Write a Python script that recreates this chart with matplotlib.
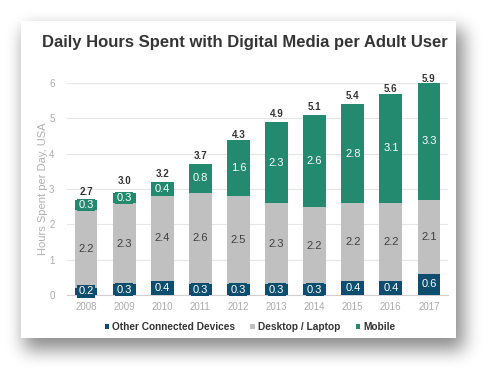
import numpy as np
import matplotlib
matplotlib.use("Agg")
import matplotlib.pyplot as plt
from matplotlib.patches import Rectangle

years = ["2008", "2009", "2010", "2011", "2012", "2013", "2014", "2015", "2016", "2017"]
other = [0.2, 0.3, 0.4, 0.3, 0.3, 0.3, 0.3, 0.4, 0.4, 0.6]
desktop = [2.2, 2.3, 2.4, 2.6, 2.5, 2.3, 2.2, 2.2, 2.2, 2.1]
mobile = [0.3, 0.3, 0.4, 0.8, 1.6, 2.3, 2.6, 2.8, 3.1, 3.3]
totals = [2.7, 3.0, 3.2, 3.7, 4.3, 4.9, 5.1, 5.4, 5.6, 5.9]
series_names = ["Other Connected Devices", "Desktop / Laptop", "Mobile"]

c_other = "#0d4e6e"
c_desk = "#c0c0c0"
c_mob = "#238a70"

plt.rcParams['font.family'] = ['Liberation Sans', 'DejaVu Sans']

W, H = 498, 381
fig = plt.figure(figsize=(W / 100, H / 100), dpi=100)
fig.patch.set_facecolor("white")

# card with soft blurred shadow
cx0, cy0, cx1, cy1 = 21, 21, 456, 338
mask = np.zeros((H, W))
mask[cy0 + 8:cy1 + 12, cx0 + 3:cx1 + 8] = 1.0
k = np.ones(17) / 17
for _ in range(3):
    mask = np.apply_along_axis(lambda r: np.convolve(r, k, mode="same"), 1, mask)
    mask = np.apply_along_axis(lambda c: np.convolve(c, k, mode="same"), 0, mask)
shadow = np.zeros((H, W, 4))
shadow[..., 3] = mask * 0.45
fig.figimage(shadow, 0, 0, origin="upper", zorder=0)
fig.patches.append(Rectangle((cx0 / W, 1 - cy1 / H), (cx1 - cx0) / W, (cy1 - cy0) / H,
                             transform=fig.transFigure, facecolor="white",
                             edgecolor="none", zorder=1))

ax = fig.add_axes([67 / W, 1 - 295 / H, (448 - 67) / W, (295 - 83) / H])
ax.set_zorder(2)
ax.patch.set_alpha(0)

x = np.arange(len(years))
bw = 0.6
b1 = ax.bar(x, other, bw, color=c_other, label=series_names[0], zorder=3)
b2 = ax.bar(x, desktop, bw, bottom=other, color=c_desk, label=series_names[1], zorder=3)
bot2 = np.array(other) + np.array(desktop)
b3 = ax.bar(x, mobile, bw, bottom=bot2, color=c_mob, label=series_names[2], zorder=3)

for i in range(len(years)):
    ax.text(x[i], other[i] / 2, f"{other[i]:.1f}", ha="center", va="center",
            color="white", fontsize=8,
            bbox=dict(boxstyle="square,pad=0.12", fc=c_other, ec="none"), zorder=4)
    ax.text(x[i], other[i] + desktop[i] / 2, f"{desktop[i]:.1f}", ha="center",
            va="center", color="#404040", fontsize=8, zorder=4)
    ax.text(x[i], bot2[i] + mobile[i] / 2, f"{mobile[i]:.1f}", ha="center",
            va="center", color="white", fontsize=8,
            bbox=dict(boxstyle="square,pad=0.12", fc=c_mob, ec="none"), zorder=4)
    ax.text(x[i], totals[i] + 0.08, f"{totals[i]:.1f}", ha="center", va="bottom",
            color="#333333", fontsize=7, fontweight="bold", zorder=4)

ax.set_xlim(-0.5, 9.5)
ax.set_ylim(0, 6)
ax.set_yticks(range(7))
ax.set_xticks(x)
ax.set_xticklabels(years)
ax.tick_params(axis="both", length=0, colors="#ababab", labelsize=7)
ax.tick_params(axis="y", pad=9)
ax.tick_params(axis="x", pad=5)
ax.grid(axis="y", color="#e6e6e6", lw=0.8, zorder=0)
ax.set_axisbelow(True)
for s in ["top", "right", "left"]:
    ax.spines[s].set_visible(False)
ax.spines["bottom"].set_color("#d0d0d0")
ax.set_ylabel("Hours Spent per Day, USA", color="#b0b0b0", fontsize=8, labelpad=1)

fig.text(245 / W, 1 - 43 / H, "Daily Hours Spent with Digital Media per Adult User",
         ha="center", va="center", fontsize=12, fontweight="bold", color="#353535",
         zorder=3)

leg = fig.legend(handles=[b1, b2, b3], loc="center", bbox_to_anchor=(250 / W, 1 - 327 / H),
                 ncol=3, frameon=False, handlelength=0.45,
                 handleheight=0.45, handletextpad=0.3, columnspacing=1.5,
                 prop={"weight": "bold", "size": 7.3})
for t in leg.get_texts():
    t.set_color("#333333")

fig.savefig("out.png", dpi=100)
